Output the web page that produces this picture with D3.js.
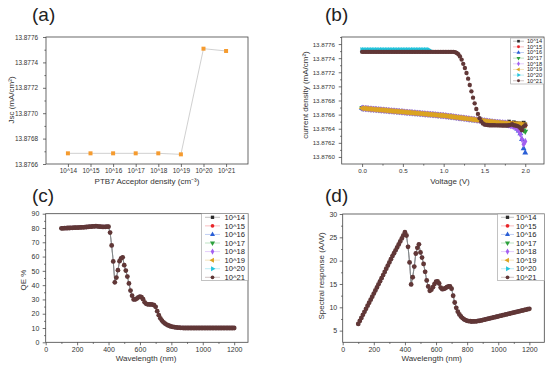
<!DOCTYPE html>
<html>
<head>
<meta charset="utf-8">
<script src="https://cdn.jsdelivr.net/npm/d3@7.9.0/dist/d3.min.js"></script>
<style>
  html, body { margin: 0; padding: 0; background: #fff; }
  svg { display: block; }
</style>
</head>
<body>
<svg id="fig" width="550" height="366"></svg>
<script>
/* ---------- data ---------- */
const densities = ['10^14', '10^15', '10^16', '10^17', '10^18', '10^19', '10^20', '10^21'];
const exponents = [14, 15, 16, 17, 18, 19, 20, 21];

// (a) short-circuit current vs acceptor density
const jscValues = [13.876684, 13.876684, 13.876684, 13.876684, 13.876684, 13.876676, 13.877508, 13.877490];

// (b) J-V sweep, current given in units of 1e-5 mA/cm² above 13.876
const volts = [
  0, 0.02, 0.04, 0.06, 0.08, 0.1, 0.12, 0.14, 0.16, 0.18,
  0.2, 0.22, 0.24, 0.26, 0.28, 0.3, 0.32, 0.34, 0.36, 0.38,
  0.4, 0.42, 0.44, 0.46, 0.48, 0.5, 0.52, 0.54, 0.56, 0.58,
  0.6, 0.62, 0.64, 0.66, 0.68, 0.7, 0.72, 0.74, 0.76, 0.78,
  0.8, 0.82, 0.84, 0.86, 0.88, 0.9, 0.92, 0.94, 0.96, 0.98,
  1.0, 1.02, 1.04, 1.06, 1.08, 1.1, 1.12, 1.14, 1.16, 1.18,
  1.2, 1.22, 1.24, 1.26, 1.28, 1.3, 1.32, 1.34, 1.36, 1.38,
  1.4, 1.42, 1.44, 1.46, 1.48, 1.5, 1.52, 1.54, 1.56, 1.58,
  1.6, 1.62, 1.64, 1.66, 1.68, 1.7, 1.72, 1.74, 1.76, 1.78,
  1.8, 1.82, 1.84, 1.86, 1.88, 1.9, 1.92, 1.94, 1.96, 1.98,
  2.0
];
// 10^14 .. 10^19 share this curve up to 1.78 V
const jvLow = [
  69.0, 68.8, 68.6, 68.4, 68.2, 67.9, 67.7, 67.5, 67.3, 67.1,
  66.9, 66.7, 66.5, 66.3, 66.1, 65.9, 65.6, 65.4, 65.2, 65.0,
  64.8, 64.6, 64.4, 64.2, 64.0, 63.8, 63.5, 63.3, 63.1, 62.9,
  62.7, 62.5, 62.3, 62.1, 61.9, 61.7, 61.4, 61.2, 61.0, 60.8,
  60.6, 60.4, 60.2, 60.0, 59.8, 59.6, 59.3, 59.1, 58.9, 58.7,
  58.5, 58.2, 57.9, 57.6, 57.3, 57.0, 56.7, 56.4, 56.1, 55.8,
  55.5, 55.2, 54.9, 54.6, 54.3, 54.0, 53.7, 53.4, 53.1, 52.8,
  52.5, 52.2, 51.9, 51.6, 51.3, 51.0, 50.7, 50.4, 50.1, 49.8,
  49.5, 49.2, 49.0, 48.8, 48.6, 48.4, 48.2, 48.0, 47.8, 47.6
];
// tails, 1.80 .. 2.00 V
const tail14 = [50.0, 48.0, 47.0, 49.0, 48.0, 46.5, 47.5, 46.0, 47.0, 48.5, 46.0];
const tail15 = [47.4, 47.2, 47.0, 46.9, 46.8, 46.7, 46.6, 46.5, 46.0, 45.5, 45.0];
const tail16 = [44.0, 44.0, 43.5, 43.0, 42.0, 40.0, 37.0, 33.0, 25.0, 12.0, 6.0];
const tail17 = [46.5, 46.0, 45.5, 45.0, 44.5, 44.0, 43.0, 42.0, 40.0, 38.0, 36.0];
const tail18 = [45.0, 44.5, 44.0, 43.0, 42.0, 40.0, 37.0, 32.0, 25.0, 18.0, 22.0];
const tail19 = [47.4, 47.2, 47.0, 46.9, 46.8, 46.7, 46.6, 46.5, 46.0, 45.5, 45.0];
const jv20 = [
  151.5, 151.5, 151.5, 151.5, 151.5, 151.5, 151.5, 151.5, 151.5, 151.5,
  151.5, 151.5, 151.5, 151.5, 151.5, 151.5, 151.5, 151.5, 151.5, 151.5,
  151.5, 151.5, 151.5, 151.5, 151.5, 151.5, 151.5, 151.5, 151.5, 151.5,
  151.5, 151.5, 151.5, 151.5, 151.5, 151.5, 151.5, 151.5, 151.5, 151.5,
  151.5, 151.5
];
const jv21 = [
  149, 149, 149, 149, 149, 149, 149, 149, 149, 149,
  149, 149, 149, 149, 149, 149, 149, 149, 149, 149,
  149, 149, 149, 149, 149, 149, 149, 149, 149, 149,
  149, 149, 149, 149, 149, 149, 149, 149, 149, 149,
  149, 149, 149, 149, 149, 149, 149, 149, 149, 149,
  149, 149, 149, 149, 149, 149, 149, 148.5, 147.5, 145.5,
  142.5, 138, 132, 126, 119, 111, 102, 93, 84, 76,
  68, 61, 55, 50.5, 47.5, 46.0, 45.5, 45.2, 45.0, 45.0,
  44.9, 44.9, 44.8, 44.8, 44.7, 44.7, 44.6, 44.6, 44.5, 44.5
];
const tail21 = [45.0, 45.5, 46.5, 45.0, 44.5, 44.0, 43.0, 41.0, 38.0, 43.0, 45.0];

// (c), (d) wavelength sweep (all densities coincide)
const wavelengths = [
  100, 110, 120, 130, 140, 150, 160, 170, 180, 190,
  200, 210, 220, 230, 240, 250, 260, 270, 280, 290,
  300, 310, 320, 330, 340, 350, 360, 370, 380, 390,
  400, 410, 420, 430, 440, 450, 460, 470, 480, 490,
  500, 510, 520, 530, 540, 550, 560, 570, 580, 590,
  600, 610, 620, 630, 640, 650, 660, 670, 680, 690,
  700, 710, 720, 730, 740, 750, 760, 770, 780, 790,
  800, 810, 820, 830, 840, 850, 860, 870, 880, 890,
  900, 910, 920, 930, 940, 950, 960, 970, 980, 990,
  1000, 1010, 1020, 1030, 1040, 1050, 1060, 1070, 1080, 1090,
  1100, 1110, 1120, 1130, 1140, 1150, 1160, 1170, 1180, 1190,
  1200
];
const qeValues = [
  79.8, 79.8, 79.9, 79.9, 80.0, 80.0, 80.1, 80.1, 80.2, 80.2,
  80.3, 80.3, 80.4, 80.5, 80.5, 80.6, 80.7, 80.8, 80.9, 81.0,
  81.1, 81.2, 81.3, 81.2, 81.0, 80.9, 80.8, 80.8, 80.8, 80.9,
  80.9, 76.8, 67.8, 56.6, 42.0, 45.3, 50.5, 56.8, 58.8, 59.5,
  54.0, 50.2, 46.0, 41.2, 36.2, 32.6, 30.0, 30.0, 30.6, 31.5,
  32.0, 31.6, 30.2, 28.0, 26.9, 26.6, 26.5, 26.5, 26.4, 26.0,
  24.8, 21.8, 19.0, 16.8, 15.2, 14.0, 13.1, 12.4, 11.8, 11.4,
  11.0, 10.8, 10.6, 10.4, 10.3, 10.2, 10.1, 10.1, 10.0, 10.0,
  10.0, 10.0, 10.0, 10.0, 10.0, 10.0, 10.0, 10.0, 10.0, 10.0,
  10.0, 10.0, 10.0, 10.0, 10.0, 10.0, 10.0, 10.0, 10.0, 10.0,
  10.0, 10.0, 10.0, 10.0, 10.0, 10.0, 10.0, 10.0, 10.0, 10.0,
  10.0
];
const srValues = [
  6.44, 7.08, 7.73, 8.38, 9.03, 9.68, 10.34, 10.98, 11.64, 12.29,
  12.95, 13.60, 14.26, 14.93, 15.58, 16.25, 16.92, 17.59, 18.27, 18.94,
  19.62, 20.30, 20.98, 21.61, 22.21, 22.83, 23.46, 24.11, 24.76, 25.44,
  26.10, 25.39, 22.96, 19.63, 14.90, 16.44, 18.73, 21.53, 22.76, 23.51,
  21.77, 20.65, 19.29, 17.61, 15.76, 14.46, 13.55, 13.79, 14.31, 14.99,
  15.48, 15.55, 15.10, 14.23, 13.88, 13.94, 14.10, 14.32, 14.48, 14.47,
  14.00, 12.48, 11.03, 9.89, 9.07, 8.47, 8.03, 7.70, 7.42, 7.26,
  7.10, 7.05, 7.01, 6.96, 6.98, 6.99, 7.00, 7.09, 7.10, 7.18,
  7.26, 7.34, 7.42, 7.50, 7.58, 7.66, 7.74, 7.82, 7.90, 7.98,
  8.06, 8.15, 8.23, 8.31, 8.39, 8.47, 8.55, 8.63, 8.71, 8.79,
  8.87, 8.95, 9.03, 9.11, 9.19, 9.27, 9.35, 9.44, 9.52, 9.60,
  9.68
];

/* ---------- style ---------- */
const FONT = '"Liberation Sans", Arial, sans-serif';
const colors = ['#2b2b2b', '#e8262a', '#2a5fd6', '#2ca03c', '#a35ff0', '#dba421', '#22c4dc', '#613737'];
const shapes = [d3.symbolSquare, d3.symbolCircle, d3.symbolTriangle, d3.symbolTriangle,
                d3.symbolDiamond, d3.symbolTriangle, d3.symbolTriangle, d3.symbolCircle];
const turns = [0, 0, 0, 180, 0, -90, 90, 0];

const svg = d3.select('#fig').style('font-family', FONT);
svg.append('rect').attr('width', 550).attr('height', 366).attr('fill', '#fff');

/* ---------- helpers ---------- */
function panel(o) {
  const x = d3.scaleLinear().domain(o.xDomain).range([o.left, o.right]);
  const y = d3.scaleLinear().domain(o.yDomain).range([o.bottom, o.top]);
  const g = svg.append('g');

  const tidy = sel => {
    sel.select('.domain').remove();
    sel.selectAll('line').attr('stroke', '#333').attr('stroke-width', 0.7);
    sel.selectAll('text').attr('fill', '#333')
      .style('font-size', o.tickFont + 'px').style('font-family', FONT);
  };

  if (o.xMinor) g.append('g').attr('transform', `translate(0,${o.bottom})`)
    .call(d3.axisBottom(x).tickValues(o.xMinor).tickSize(1.6).tickFormat('')).call(tidy);
  g.append('g').attr('transform', `translate(0,${o.bottom})`)
    .call(d3.axisBottom(x).tickValues(o.xTicks).tickSize(3).tickPadding(o.xPad).tickFormat(o.xFmt)).call(tidy);
  if (o.yMinor) g.append('g').attr('transform', `translate(${o.left},0)`)
    .call(d3.axisLeft(y).tickValues(o.yMinor).tickSize(1.6).tickFormat('')).call(tidy);
  g.append('g').attr('transform', `translate(${o.left},0)`)
    .call(d3.axisLeft(y).tickValues(o.yTicks).tickSize(3).tickPadding(o.yPad).tickFormat(o.yFmt)).call(tidy);

  g.append('rect')
    .attr('x', o.left).attr('y', o.top)
    .attr('width', o.right - o.left).attr('height', o.bottom - o.top)
    .attr('fill', 'none').attr('stroke', '#444').attr('stroke-width', 0.8);

  g.append('text').attr('x', o.tag[0]).attr('y', o.tag[1])
    .style('font-size', '19px').attr('fill', '#222').text(o.tagText);

  g.append('text').attr('x', o.xTitle[0]).attr('y', o.xTitle[1])
    .attr('text-anchor', 'middle').style('font-size', '8px').attr('fill', '#333')
    .text(o.xTitleText);

  g.append('text')
    .attr('transform', `translate(${o.yTitle[0]},${o.yTitle[1]}) rotate(-90)`)
    .attr('text-anchor', 'middle').style('font-size', '8px').attr('fill', '#333')
    .text(o.yTitleText);

  return { x, y, g };
}

function series(g, x, y, xs, ys, i, size) {
  const pts = xs.map((v, k) => [v, ys[k]]);
  g.append('path').datum(pts)
    .attr('d', d3.line().x(d => x(d[0])).y(d => y(d[1])))
    .attr('fill', 'none').attr('stroke', colors[i])
    .attr('stroke-opacity', 0.35).attr('stroke-width', 0.6);
  g.append('g').selectAll('path').data(pts).join('path')
    .attr('d', d3.symbol(shapes[i], size)())
    .attr('transform', d => `translate(${x(d[0])},${y(d[1])}) rotate(${turns[i]})`)
    .attr('fill', colors[i]);
}

function legend(g, o) {
  g.append('rect')
    .attr('x', o.x0).attr('y', o.y0)
    .attr('width', o.x1 - o.x0).attr('height', o.y1 - o.y0)
    .attr('fill', '#fff').attr('stroke', '#9a9a9a').attr('stroke-width', 0.6);
  densities.forEach((name, i) => {
    const cy = o.first + i * o.step;
    g.append('line')
      .attr('x1', o.l0).attr('x2', o.l1).attr('y1', cy).attr('y2', cy)
      .attr('stroke', colors[i]).attr('stroke-opacity', 0.5).attr('stroke-width', 0.6);
    g.append('path')
      .attr('d', d3.symbol(shapes[i], o.sym)())
      .attr('transform', `translate(${(o.l0 + o.l1) / 2},${cy}) rotate(${turns[i]})`)
      .attr('fill', colors[i]);
    g.append('text')
      .attr('x', o.tx).attr('y', cy).attr('dy', '0.35em')
      .style('font-size', o.font + 'px').attr('fill', '#222')
      .text(name);
  });
}

/* ---------- (a) ---------- */
{
  const { x, y, g } = panel({
    left: 46, right: 248, top: 37, bottom: 164,
    xDomain: [13.03, 21.97], yDomain: [13.8766, 13.8776],
    xTicks: exponents, xFmt: d => '10^' + d, xPad: 1.5,
    yTicks: d3.range(13.8766, 13.87761, 0.0002), yMinor: d3.range(13.8767, 13.8776, 0.0002),
    yFmt: d3.format('.4f'), yPad: 5, tickFont: 6.4,
    tag: [32, 21], tagText: '(a)',
    xTitle: [147, 184], xTitleText: 'PTB7 Acceptor density (cm⁻³)',
    yTitle: [14, 100], yTitleText: 'Jsc (mA/cm²)'
  });
  const pts = exponents.map((e, k) => [e, jscValues[k]]);
  g.append('path').datum(pts)
    .attr('d', d3.line().x(d => x(d[0])).y(d => y(d[1])))
    .attr('fill', 'none').attr('stroke', '#c4c4c4').attr('stroke-width', 0.8);
  g.append('g').selectAll('path').data(pts).join('path')
    .attr('d', d3.symbol(d3.symbolSquare, 16)())
    .attr('transform', d => `translate(${x(d[0])},${y(d[1])})`)
    .attr('fill', '#f59b2f');
}

/* ---------- (b) ---------- */
{
  const { x, y, g } = panel({
    left: 341.7, right: 544, top: 37, bottom: 164,
    xDomain: [-0.25, 2.23], yDomain: [13.8759, 13.87770],
    xTicks: [0, 0.5, 1, 1.5, 2], xMinor: [0.25, 0.75, 1.25, 1.75], xFmt: d3.format('.1f'), xPad: 1.5,
    yTicks: d3.range(13.876, 13.87761, 0.0002), yMinor: d3.range(13.8761, 13.8777, 0.0002),
    yFmt: d3.format('.4f'), yPad: 3.7, tickFont: 6.2,
    tag: [325, 21], tagText: '(b)',
    xTitle: [450, 184], xTitleText: 'Voltage (V)',
    yTitle: [308, 95], yTitleText: 'current density (mA/cm²)'
  });
  const toJ = arr => arr.map(v => 13.876 + v * 1e-5);
  const curves = [
    [volts, jvLow.concat(tail14)],
    [volts, jvLow.concat(tail15)],
    [volts, jvLow.concat(tail16)],
    [volts, jvLow.concat(tail17)],
    [volts, jvLow.concat(tail18)],
    [volts, jvLow.concat(tail19)],
    [volts.slice(0, jv20.length), jv20],
    [volts, jv21.concat(tail21)]
  ];
  curves.forEach(([vs, js], i) => series(g, x, y, vs, toJ(js), i, 15));
  legend(g, { x0: 510.7, x1: 544, y0: 38, y1: 84, first: 41.2, step: 5.65,
              l0: 513, l1: 524, sym: 7, tx: 527, font: 5.6 });
}

/* ---------- (c) ---------- */
{
  const { x, y, g } = panel({
    left: 45.7, right: 248, top: 213.7, bottom: 342.3,
    xDomain: [0, 1288], yDomain: [0, 90],
    xTicks: d3.range(0, 1201, 200), xMinor: d3.range(100, 1300, 200), xFmt: d3.format('d'), xPad: 1.5,
    yTicks: d3.range(0, 91, 10), yMinor: d3.range(5, 90, 10),
    yFmt: d3.format('d'), yPad: 3.3, tickFont: 7,
    tag: [32, 202], tagText: '(c)',
    xTitle: [146, 361], xTitleText: 'Wavelength (nm)',
    yTitle: [26, 280], yTitleText: 'QE %'
  });
  // all densities overlap; the last one (brown) covers the rest
  densities.forEach((d, i) => series(g, x, y, wavelengths, qeValues, i, i === 7 ? 18 : 6));
  legend(g, { x0: 201.7, x1: 248, y0: 213.7, y1: 280.7, first: 217.3, step: 8.57,
              l0: 205, l1: 220, sym: 11, tx: 224.5, font: 7.6 });
}

/* ---------- (d) ---------- */
{
  const { x, y, g } = panel({
    left: 342.7, right: 544.3, top: 214, bottom: 342.3,
    xDomain: [0, 1296], yDomain: [2.5, 30],
    xTicks: d3.range(0, 1201, 200), xMinor: d3.range(100, 1300, 200), xFmt: d3.format('d'), xPad: 1.5,
    yTicks: d3.range(5, 31, 5), yMinor: d3.range(7.5, 30, 5),
    yFmt: d3.format('d'), yPad: 2.5, tickFont: 7,
    tag: [325, 202], tagText: '(d)',
    xTitle: [431.7, 361], xTitleText: 'Wavelength (nm)',
    yTitle: [324, 276], yTitleText: 'Spectral response (A/W)'
  });
  densities.forEach((d, i) => series(g, x, y, wavelengths, srValues, i, i === 7 ? 18 : 6));
  legend(g, { x0: 497.7, x1: 544.3, y0: 214, y1: 280.7, first: 217.3, step: 8.57,
              l0: 501, l1: 514, sym: 11, tx: 516, font: 7.6 });
}
</script>
</body>
</html>
